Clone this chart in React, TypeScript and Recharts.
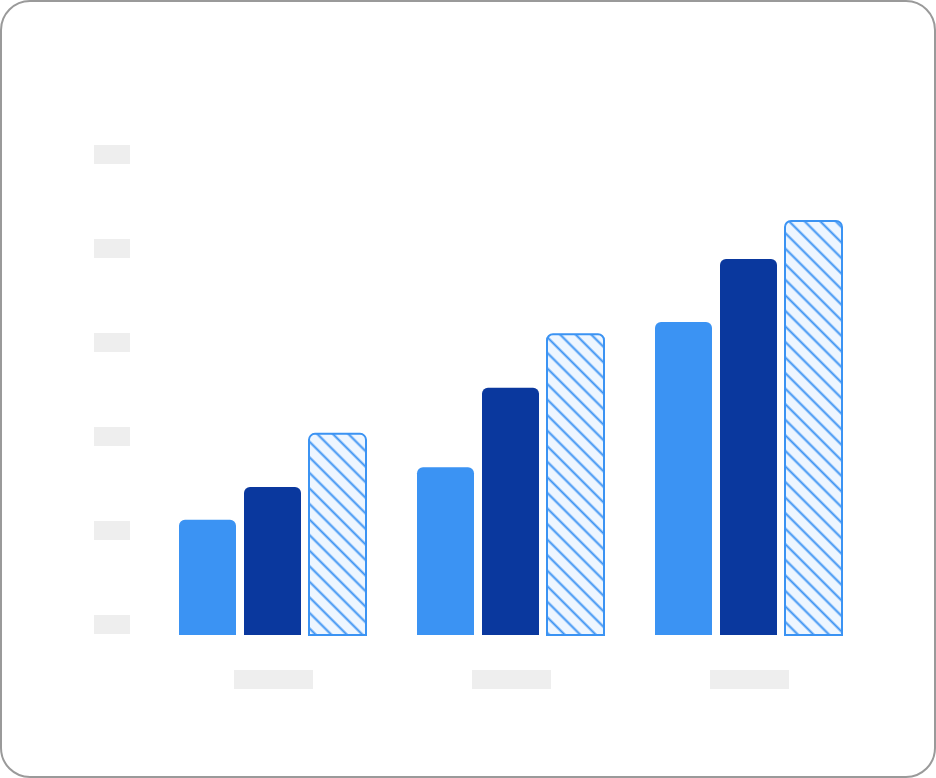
import React from 'react';
import { BarChart, Bar, XAxis, YAxis } from 'recharts';

const categories = ['A', 'B', 'C'];
const seriesA = [24.5, 35.7, 66.6];
const seriesB = [31.5, 52.6, 80.0];
const seriesC = [42.8, 64.0, 88.1];
const yTicks = [0, 20, 40, 60, 80, 100];

const data = categories.map((name, i) => ({
  name,
  a: seriesA[i],
  b: seriesB[i],
  c: seriesC[i],
}));

// placeholder blocks instead of tick text
const YTickBlock = (props: any) => {
  const { x, y } = props;
  return <rect x={x - 36} y={y - 20} width={36} height={19} fill="#eeeeee" />;
};

const XTickBlock = (props: any) => {
  const { x, y } = props;
  return <rect x={x - 38} y={y} width={79} height={19} fill="#eeeeee" />;
};

const App: React.FC = () => {
  return (
    <div style={{ position: 'relative', width: 936, height: 778, background: '#fff' }}>
      <style>{'body{margin:0}'}</style>
      <BarChart
        width={936}
        height={778}
        data={data}
        margin={{ top: 165, right: 69, bottom: 83, left: 94 }}
        barCategoryGap={25}
        barGap={8}
        barSize={57}
      >
        <defs>
          <pattern
            id="hatch"
            width="11"
            height="11"
            patternUnits="userSpaceOnUse"
            patternTransform="rotate(-45)"
          >
            <rect width="11" height="11" fill="#eef6ff" />
            <line x1="5.5" y1="0" x2="5.5" y2="11" stroke="#3b93f3" strokeWidth={2} />
          </pattern>
        </defs>
        <XAxis
          dataKey="name"
          axisLine={false}
          tickLine={false}
          tickSize={0}
          tickMargin={35}
          height={60}
          tick={<XTickBlock />}
        />
        <YAxis
          domain={[0, 100]}
          ticks={yTicks}
          axisLine={false}
          tickLine={false}
          tickSize={0}
          tickMargin={23}
          width={59}
          tick={<YTickBlock />}
        />
        <Bar dataKey="a" fill="#3b93f3" radius={[6, 6, 0, 0]} isAnimationActive={false} />
        <Bar dataKey="b" fill="#0a389e" radius={[6, 6, 0, 0]} isAnimationActive={false} />
        <Bar
          dataKey="c"
          fill="url(#hatch)"
          stroke="#3b93f3"
          strokeWidth={2}
          radius={[6, 6, 0, 0]}
          isAnimationActive={false}
        />
      </BarChart>
      <div
        style={{
          position: 'absolute',
          inset: 0,
          border: '2px solid #9a9a9a',
          borderRadius: 30,
          pointerEvents: 'none',
        }}
      />
    </div>
  );
};

export default App;
